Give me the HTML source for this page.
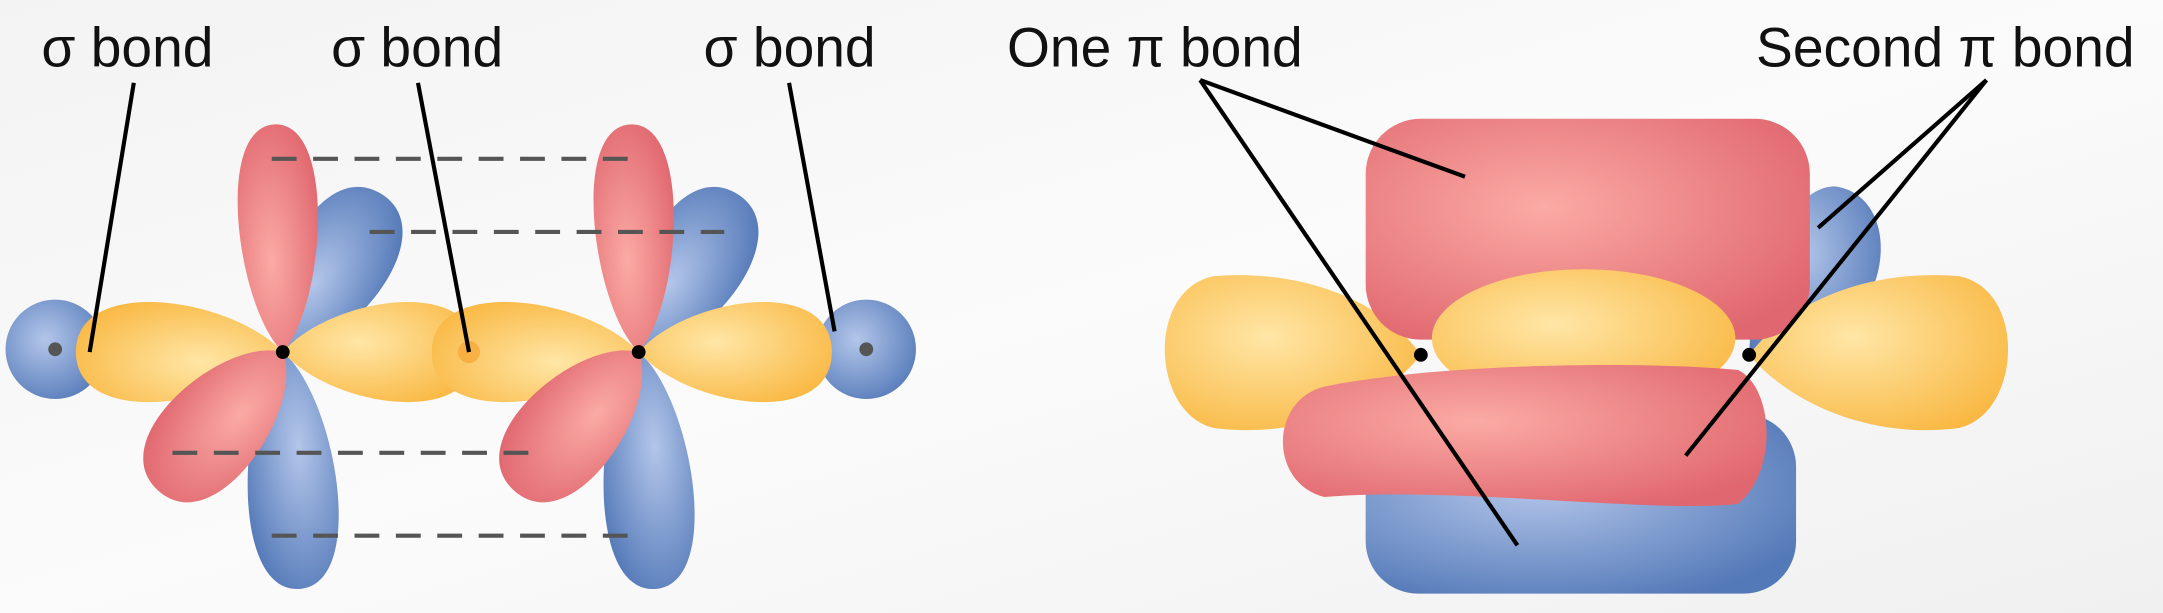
<!DOCTYPE html>
<html><head><meta charset="utf-8"><style>
html,body{margin:0;padding:0;background:#f5f5f5;}
svg{display:block;}
text{font-family:"Liberation Sans",sans-serif;font-size:40px;fill:#111;}
</style></head><body>
<svg width="2163" height="613" viewBox="0 0 1568 444" preserveAspectRatio="none">
<defs>
<radialGradient id="gy" cx="0.4" cy="0.4" r="0.7"><stop offset="0" stop-color="#ffe6a6"/><stop offset="1" stop-color="#f9b843"/></radialGradient>
<radialGradient id="gr" cx="0.4" cy="0.4" r="0.7"><stop offset="0" stop-color="#fbaaa4"/><stop offset="1" stop-color="#e0676f"/></radialGradient>
<radialGradient id="gb" cx="0.4" cy="0.4" r="0.7"><stop offset="0" stop-color="#b3c6ea"/><stop offset="1" stop-color="#5479b8"/></radialGradient>
<linearGradient id="bg" x1="0" y1="0" x2="1" y2="1"><stop offset="0" stop-color="#f3f3f3"/><stop offset="0.5" stop-color="#fbfbfb"/><stop offset="1" stop-color="#f0f0f0"/></linearGradient>
</defs>
<rect width="1568" height="444" fill="url(#bg)"/>
<g id="left"></g>
<g id="right">
  <path d="M1268 257 C1270 190 1300 135 1330 135 C1370 140 1375 200 1340 235 Z" fill="url(#gb)"/>
  <rect x="990" y="300" width="312" height="130" rx="38" fill="url(#gb)"/>
  <path d="M1030 257 C1000 215 940 195 880 200 C830 210 835 300 880 310 C940 318 1000 295 1030 257 Z" fill="url(#gy)"/>
  <path d="M1268 257 C1300 215 1360 195 1420 200 C1470 210 1465 300 1420 310 C1360 318 1300 295 1268 257 Z" fill="url(#gy)"/>
  <rect x="990" y="86" width="322" height="160" rx="40" fill="url(#gr)"/>
  <ellipse cx="1148" cy="245" rx="110" ry="50" fill="url(#gy)"/>
  <path d="M960 280 C1050 262 1200 262 1260 268 C1285 280 1290 340 1260 365 C1200 372 1050 352 960 360 C920 350 920 290 960 280 Z" fill="url(#gr)"/>
  <circle cx="1030" cy="257" r="5" fill="#000"/><circle cx="1268" cy="257" r="5" fill="#000"/>
</g>
<g id="labels" stroke="#000" stroke-width="3">
  <line x1="97" y1="60" x2="65" y2="255"/><line x1="303" y1="60" x2="340" y2="255"/><line x1="572" y1="60" x2="605" y2="240"/>
  <line x1="870" y1="58" x2="1062" y2="128"/><line x1="870" y1="58" x2="1100" y2="395"/>
  <line x1="1440" y1="58" x2="1318" y2="165"/><line x1="1440" y1="58" x2="1222" y2="330"/>
</g>
<text x="30" y="48">σ bond</text>
<text x="240" y="48">σ bond</text>
<text x="510" y="48">σ bond</text>
<text x="730" y="48">One π bond</text>
<text x="1273" y="48">Second π bond</text>
</svg>
<script>
const NS='http://www.w3.org/2000/svg';
const g=document.getElementById('left');
function lobe(cx,cy,ang,L,w,fill,name,k){
  const p=document.createElementNS(NS,'path');
  p.setAttribute('d',`M0,0 C${k*L},${-w} ${L},${-1.4*w} ${L},0 C${L},${1.4*w} ${k*L},${w} 0,0 Z`);
  p.setAttribute('transform',`translate(${cx},${cy}) rotate(${ang})`);
  p.setAttribute('fill',fill);
  
  
  g.appendChild(p);
}
function circ(cx,cy,r,fill,name){
  const c=document.createElementNS(NS,'circle');
  c.setAttribute('cx',cx);c.setAttribute('cy',cy);c.setAttribute('r',r);c.setAttribute('fill',fill);
  
  
  g.appendChild(c);
}
circ(40,253,36,'url(#gb)','hydrogen-s-orbital-left');
circ(628,253,36,'url(#gb)','hydrogen-s-orbital-right');
[205,463].forEach((x,i)=>{
  const y=255;
  lobe(x,y,-58,135,40,'url(#gb)','blue-lobe-top',0.15);
  lobe(x,y,86,172,36,'url(#gb)','blue-lobe-bottom',0.2);
  lobe(x,y,180,150,40,'url(#gy)','yellow-lobe-left',0.25);
  lobe(x,y,0,140,40,'url(#gy)','yellow-lobe-right',0.25);
  lobe(x,y,-92,165,32,'url(#gr)','red-lobe-top',0.2);
  lobe(x,y,132,135,40,'url(#gr)','red-lobe-bottom',0.15);
});
circ(340,255,8,'rgba(245,150,30,0.5)','sigma-overlap');
circ(40,253,5,'#555','h-nucleus');circ(628,253,5,'#555','h-nucleus');
circ(205,255,5,'#000','c-nucleus');circ(463,255,5,'#000','c-nucleus');
[[197,460,115],[268,525,168],[125,385,328],[197,460,388]].forEach(d=>{
  const l=document.createElementNS(NS,'line');
  l.setAttribute('x1',d[0]);l.setAttribute('x2',d[1]);l.setAttribute('y1',d[2]);l.setAttribute('y2',d[2]);
  l.setAttribute('stroke','#555');l.setAttribute('stroke-width','3');l.setAttribute('stroke-dasharray','18 12');
  
  
  g.appendChild(l);
});
</script>
</body></html>
